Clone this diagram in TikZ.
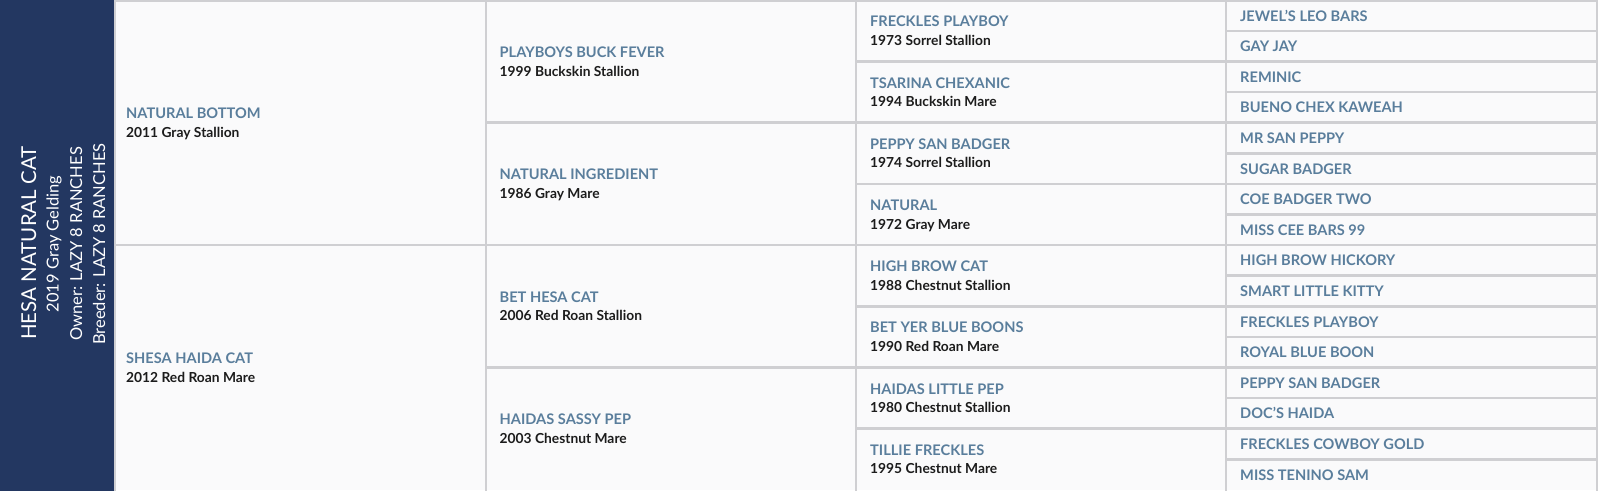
\documentclass[tikz,border=0pt]{standalone}
\usepackage{fontspec}
\setmainfont{Lato}
\definecolor{navy}{HTML}{233761}
\definecolor{nameblue}{HTML}{5A7E9C}
\definecolor{subblack}{HTML}{1C1C1C}
\definecolor{cellbg}{HTML}{FAFAFB}
\definecolor{gridgray}{HTML}{CFCFD2}
\tikzset{
  cell/.style={rectangle, fill=cellbg, draw=none, inner sep=0pt, outer sep=0pt},
  gridline/.style={draw=gridgray, line width=2.5pt, line cap=rect},
  nm/.style={inner sep=0pt, text=nameblue, font=\bfseries\fontsize{14.6}{16}\selectfont},
  sb/.style={inner sep=0pt, text=subblack, font=\bfseries\fontsize{13.8}{15}\selectfont},
  subjtitle/.style={inner sep=0pt, text=white, rotate=90, anchor=base, font=\fontsize{20.5}{22}\selectfont},
  subjline/.style={inner sep=0pt, text=white, rotate=90, anchor=base, font=\fontsize{16.5}{18}\selectfont},
}
\begin{document}
\begin{tikzpicture}[x=1pt,y=-1pt]
\useasboundingbox (0,0) rectangle (1600,491);
\fill[white] (0,0) rectangle (1600,491);
% subject column
\node[rectangle, fill=navy, inner sep=0pt, outer sep=0pt, minimum width=114pt, minimum height=491pt] (subject) at (57,245.5) {};
\node[subjtitle] (stitle) at (36,243) {HESA NATURAL CAT};
\node[subjline] (syear) at (58.5,244) {2019 Gray Gelding};
\node[subjline] (sowner) at (82,244) {Owner: LAZY 8 RANCHES};
\node[subjline] (sbreeder) at (105,244) {Breeder: LAZY 8 RANCHES};
% generation 1
\foreach \n/\s [count=\i from 0] in {NATURAL BOTTOM/2011 Gray Stallion, SHESA HAIDA CAT/2012 Red Roan Mare}{
  \node[cell, minimum width=371pt, minimum height=244.8pt] (a\i) at (300.5,{122.7+244.8*\i}) {};
  \draw[gridline] (a\i.south west) |- (a\i.north east);
  \node[nm, anchor=base west] (a\i n) at ([xshift=11pt,yshift=4pt]a\i.west) {\n};
  \node[sb, anchor=base west] (a\i s) at ([xshift=11pt,yshift=-14.5pt]a\i.west) {\s};
}
% generation 2
\foreach \n/\s [count=\i from 0] in {PLAYBOYS BUCK FEVER/1999 Buckskin Stallion, NATURAL INGREDIENT/1986 Gray Mare, BET HESA CAT/2006 Red Roan Stallion, HAIDAS SASSY PEP/2003 Chestnut Mare}{
  \node[cell, minimum width=370pt, minimum height=122.4pt] (b\i) at (671,{61.5+122.4*\i}) {};
  \draw[gridline] (b\i.south west) |- (b\i.north east);
  \node[nm, anchor=base west] (b\i n) at ([xshift=13.5pt,yshift=4pt]b\i.west) {\n};
  \node[sb, anchor=base west] (b\i s) at ([xshift=13.5pt,yshift=-14.5pt]b\i.west) {\s};
}
% generation 3
\foreach \n/\s [count=\i from 0] in {FRECKLES PLAYBOY/1973 Sorrel Stallion, TSARINA CHEXANIC/1994 Buckskin Mare, PEPPY SAN BADGER/1974 Sorrel Stallion, NATURAL/1972 Gray Mare, HIGH BROW CAT/1988 Chestnut Stallion, BET YER BLUE BOONS/1990 Red Roan Mare, HAIDAS LITTLE PEP/1980 Chestnut Stallion, TILLIE FRECKLES/1995 Chestnut Mare}{
  \node[cell, minimum width=370pt, minimum height=61.2pt] (c\i) at (1041,{30.9+61.2*\i}) {};
  \draw[gridline] (c\i.south west) |- (c\i.north east);
  \node[nm, anchor=base west] (c\i n) at ([xshift=14pt,yshift=4pt]c\i.west) {\n};
  \node[sb, anchor=base west] (c\i s) at ([xshift=14pt,yshift=-14.5pt]c\i.west) {\s};
}
% generation 4
\foreach \n [count=\i from 0] in {JEWEL'S LEO BARS, GAY JAY, REMINIC, BUENO CHEX KAWEAH, MR SAN PEPPY, SUGAR BADGER, COE BADGER TWO, MISS CEE BARS 99, HIGH BROW HICKORY, SMART LITTLE KITTY, FRECKLES PLAYBOY, ROYAL BLUE BOON, PEPPY SAN BADGER, DOC'S HAIDA, FRECKLES COWBOY GOLD, MISS TENINO SAM}{
  \node[cell, minimum width=371pt, minimum height=30.6pt] (d\i) at (1411.5,{15.6+30.6*\i}) {};
  \draw[gridline] (d\i.south west) |- (d\i.north east) -- (d\i.south east);
  \node[nm, anchor=base west] (d\i n) at ([xshift=14pt,yshift=-5.5pt]d\i.west) {\n};
}
\end{tikzpicture}
\end{document}
